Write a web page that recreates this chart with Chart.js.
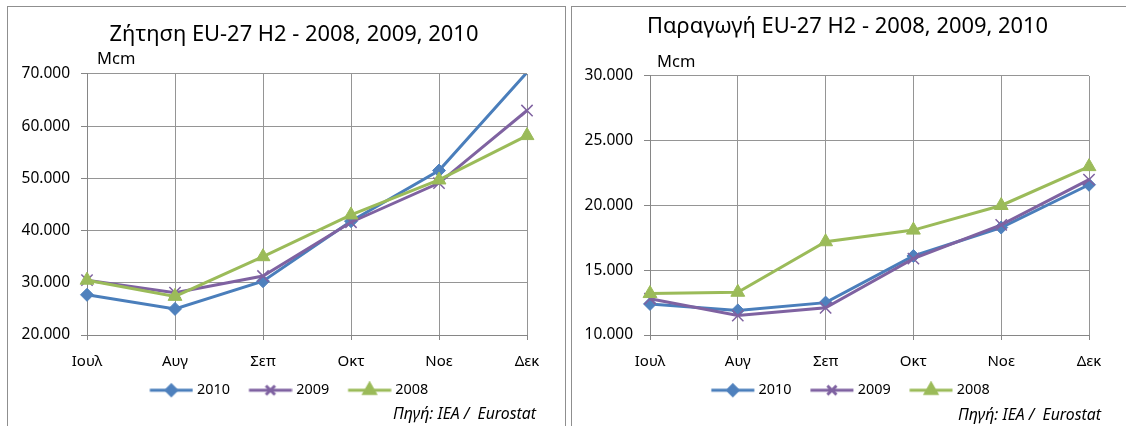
<!DOCTYPE html>
<html>
<head>
<meta charset="utf-8">
<script src="https://cdn.jsdelivr.net/npm/chart.js@4.4.0/dist/chart.umd.min.js"></script>
<style>
html,body{margin:0;padding:0;background:#fff;width:1126px;height:426px;overflow:hidden;font-family:'Noto Sans',sans-serif;}
.panel{position:absolute;border:1px solid #8f8f8f;border-bottom:none;box-sizing:border-box;background:#fff;}
#p1{left:7px;top:6px;width:559px;height:420px;}
#p2{left:571px;top:6px;width:555px;height:420px;border-right:none;}
canvas{position:absolute;left:0;top:0;}
.unit{position:absolute;font-size:16.5px;line-height:20px;color:#000;}
.src{position:absolute;font-size:15.8px;font-style:italic;line-height:18px;white-space:pre;color:#000;}
</style>
</head>
<body>
<div class="panel" id="p1">
  <canvas id="c1" width="557" height="419" style="width:557px;height:419px"></canvas>
  <div class="unit" style="left:89px;top:41px">Mcm</div>
  <div class="src" style="right:29px;top:397px">Πηγή: IEA /  Eurostat</div>
</div>
<div class="panel" id="p2">
  <canvas id="c2" width="554" height="419" style="width:554px;height:419px"></canvas>
  <div class="unit" style="left:85px;top:44px">Mcm</div>
  <div class="src" style="right:25px;top:398px">Πηγή: IEA /  Eurostat</div>
</div>
<script>
// ---- data ----
const categories = ['Ιουλ', 'Αυγ', 'Σεπ', 'Οκτ', 'Νοε', 'Δεκ'];
const years = ['2010', '2009', '2008'];
const demand2010 = [27700, 25000, 30300, 41800, 51500, 70300];
const demand2009 = [30500, 28100, 31300, 41600, 49100, 63000];
const demand2008 = [30500, 27400, 35000, 43000, 49700, 58200];
const prod2010 = [12400, 11900, 12500, 16100, 18300, 21600];
const prod2009 = [12800, 11500, 12100, 15900, 18500, 22000];
const prod2008 = [13200, 13300, 17200, 18100, 20000, 23000];
const demandTicks = [20000, 30000, 40000, 50000, 60000, 70000];
const demandTickLabels = ['20.000', '30.000', '40.000', '50.000', '60.000', '70.000'];
const prodTicks = [10000, 15000, 20000, 25000, 30000];
const prodTickLabels = ['10.000', '15.000', '20.000', '25.000', '30.000'];
const demandTitle = 'Ζήτηση EU-27 H2 - 2008, 2009, 2010';
const prodTitle = 'Παραγωγή EU-27 H2 - 2008, 2009, 2010';

// ---- styles ----
const FONT = "'Noto Sans', sans-serif";
const styles = {
  '2010': {line: '#4A7EBB', fill: '#4F81BD', pointStyle: 'rectRot', radius: 6.5, bw: 1, order: 2},
  '2009': {line: '#7F62A1', fill: '#7F62A1', pointStyle: 'crossRot', radius: 8, bw: 1.5, order: 1},
  '2008': {line: '#9BBB59', fill: '#9BBB59', pointStyle: 'triangle', radius: 8, bw: 1, order: 0}
};

// legend sample: line + marker, with 10.4px transparent lead-in so the gap after the text is wider
function legendImage(st) {
  const c = document.createElement('canvas');
  c.width = 54; c.height = 18;
  const ctx = c.getContext('2d');
  ctx.strokeStyle = st.line; ctx.lineWidth = 3;
  ctx.beginPath(); ctx.moveTo(10.4, 9); ctx.lineTo(53.4, 9); ctx.stroke();
  ctx.fillStyle = st.fill; ctx.strokeStyle = st.fill;
  const opts = {pointStyle: st.pointStyle, rotation: 0, radius: st.radius * 0.8, borderWidth: st.bw};
  if (Chart.helpers && Chart.helpers.drawPoint) {
    Chart.helpers.drawPoint(ctx, opts, 31.9, 9);
  }
  return c;
}

const shiftPlugin = {
  id: 'shiftBoxes',
  afterLayout(chart, args, opts) {
    if (chart.titleBlock && opts.title) { chart.titleBlock.left += opts.title; chart.titleBlock.right += opts.title; }
    if (chart.legend && opts.legend) { chart.legend.left += opts.legend; chart.legend.right += opts.legend; }
  }
};

function makeChart(id, cfg) {
  const series = cfg.series;
  const yMax = cfg.ticks[cfg.ticks.length - 1];
  const datasets = years.map((y, i) => {
    const st = styles[y];
    return {
      label: y,
      data: series[i],
      borderColor: st.line,
      backgroundColor: st.fill,
      borderWidth: 3,
      pointStyle: st.pointStyle,
      pointRadius: (c) => (c.raw > yMax ? 0 : st.radius),
      pointHoverRadius: (c) => (c.raw > yMax ? 0 : st.radius),
      pointBackgroundColor: st.fill,
      pointBorderColor: st.fill,
      pointBorderWidth: st.bw,
      tension: 0,
      order: st.order,
      clip: {left: false, right: false, bottom: false, top: 0}
    };
  });
  return new Chart(document.getElementById(id), {
    type: 'line',
    data: {labels: categories, datasets},
    plugins: [shiftPlugin],
    options: {
      responsive: false,
      animation: false,
      events: [],
      layout: {padding: {left: 5, right: cfg.padRight, top: 0, bottom: cfg.padBottom}},
      scales: {
        x: {
          type: 'category',
          offset: false,
          grid: {color: '#959595', lineWidth: 1, tickLength: 5, offset: false, tickColor: '#868686'},
          border: {color: '#868686', width: 1},
          ticks: {font: {family: FONT, size: 15, lineHeight: 1.2}, color: '#000', padding: 13, maxRotation: 0, autoSkip: false},
          afterFit(scale) { scale.height = 36; }
        },
        y: {
          min: cfg.ticks[0],
          max: yMax,
          afterBuildTicks(scale) { scale.ticks = cfg.ticks.map(v => ({value: v})); },
          grid: {color: '#959595', lineWidth: 1, tickLength: 6, tickColor: '#868686'},
          border: {color: '#868686', width: 1},
          ticks: {
            font: {family: FONT, size: 15.5}, color: '#000', padding: 11,
            callback: (v, i) => cfg.tickLabels[i]
          },
          afterFit(scale) { scale.width = cfg.yWidth; }
        }
      },
      plugins: {
        shiftBoxes: {title: cfg.titleShift, legend: cfg.legendShift},
        tooltip: {enabled: false},
        title: {
          display: true, text: cfg.title, color: '#000',
          font: {family: FONT, size: 21.9, weight: 'normal', lineHeight: 1.2},
          padding: {top: cfg.titleTop, bottom: cfg.titleBottom}
        },
        legend: {
          display: true, position: 'bottom',
          labels: {
            usePointStyle: true, pointStyleWidth: 47, padding: 12,
            font: {family: FONT, size: 14.4}, color: '#000',
            sort: (a, b) => a.datasetIndex - b.datasetIndex,
            generateLabels(chart) {
              return chart.data.datasets.map((ds, i) => ({
                text: ds.label, datasetIndex: i, pointStyle: legendImage(styles[ds.label]),
                fillStyle: ds.backgroundColor, strokeStyle: ds.borderColor, lineWidth: 0, hidden: false,
                fontColor: '#000'
              }));
            }
          }
        }
      }
    }
  });
}

makeChart('c1', {
  series: [demand2010, demand2009, demand2008],
  ticks: demandTicks, tickLabels: demandTickLabels, title: demandTitle,
  padRight: 38, padBottom: 18.6, yWidth: 74,
  titleTop: 14.9, titleBottom: 25.8, titleShift: 24, legendShift: 15.6
});
makeChart('c2', {
  series: [prod2010, prod2009, prod2008],
  ticks: prodTicks, tickLabels: prodTickLabels, title: prodTitle,
  padRight: 37, padBottom: 18.6, yWidth: 73,
  titleTop: 6.9, titleBottom: 35.8, titleShift: 14.5, legendShift: 14.1
});
</script>
</body>
</html>
